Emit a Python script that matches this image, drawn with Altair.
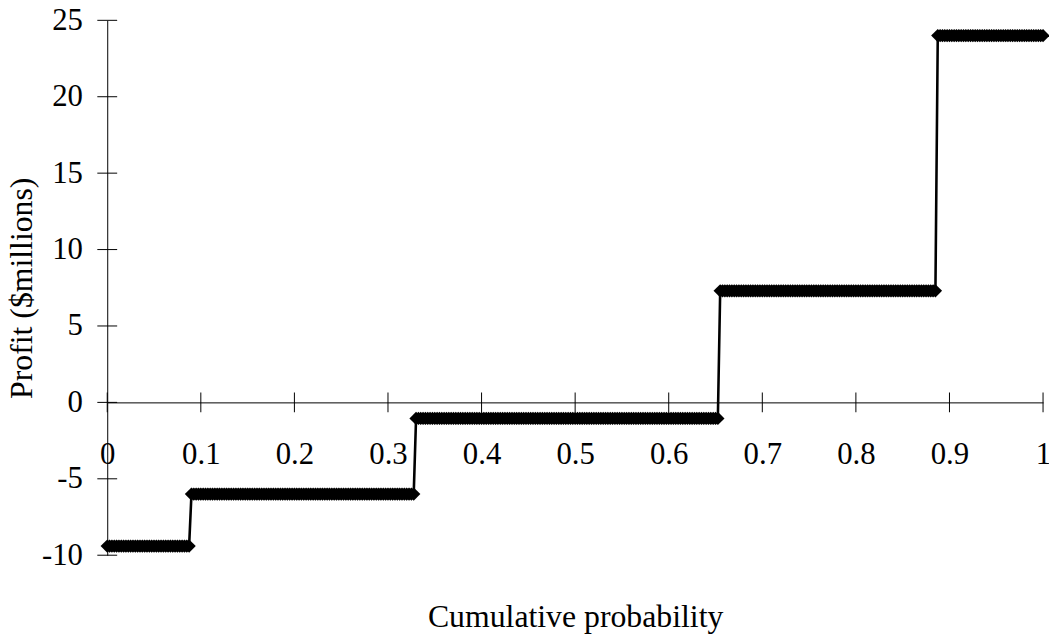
import altair as alt
import pandas as pd

# Data: sorted profit outcomes (cumulative probability plot)
profit_levels = [-9.4, -6.0, -1.05, 7.3, 24.0]   # $ millions
level_counts = [36, 96, 130, 93, 46]             # number of plotted points on each level

x_tick_values = [0, 0.1, 0.2, 0.3, 0.4, 0.5, 0.6, 0.7, 0.8, 0.9, 1]
y_tick_values = [-10, -5, 0, 5, 10, 15, 20, 25]

profits = []
for lvl, cnt in zip(profit_levels, level_counts):
    profits += [lvl] * cnt
n = len(profits)
probs = [i / (n - 1) for i in range(n)]
df = pd.DataFrame({"p": probs, "profit": profits})

W, H = 943, 539
FONT = "Liberation Serif"
LFS = 31
TFS = 32

x_scale = alt.Scale(domain=[0, 1], nice=False, zero=False)
y_scale = alt.Scale(domain=[-10, 25], nice=False, zero=False)

x_axis = alt.Axis(
    values=x_tick_values, labelExpr="'' + datum.value", ticks=False, grid=False,
    domain=True, offset=-154, labelPadding=38, labelFlush=False, labelOverlap=False,
    title="Cumulative probability", titleY=226, titleBaseline="alphabetic",
)
y_axis = alt.Axis(
    values=y_tick_values, labelExpr="'' + datum.value", ticks=False, grid=False,
    domain=True, labelPadding=25, labelFlush=False, labelOverlap=False,
    title="Profit ($millions)", titleX=-76, titleY=H / 2, titleAngle=270,
    titleBaseline="alphabetic",
)

base = alt.Chart(df)
line = base.mark_line(color="black", strokeWidth=2.6).encode(
    x=alt.X("p:Q", scale=x_scale, axis=x_axis),
    y=alt.Y("profit:Q", scale=y_scale, axis=y_axis),
)
points = base.mark_point(shape="diamond", filled=True, size=180, color="black", opacity=1).encode(
    x="p:Q", y="profit:Q"
)

xt = alt.Chart(pd.DataFrame({"x": x_tick_values})).mark_tick(
    orient="vertical", size=20, thickness=1, color="black", opacity=1
).encode(x="x:Q", y=alt.datum(0))
yt = alt.Chart(pd.DataFrame({"y": y_tick_values})).mark_tick(
    orient="horizontal", size=20, thickness=1, color="black", opacity=1
).encode(y="y:Q", x=alt.datum(0))

chart = alt.layer(xt, yt, line, points).properties(
    width=W, height=H,
    autosize=alt.AutoSizeParams(type="none"),
    padding={"left": 100, "top": 10, "right": 6, "bottom": 79},
).configure_view(stroke=None).configure_axis(
    domainColor="black", domainWidth=1, labelColor="black", titleColor="black",
    labelFont=FONT, titleFont=FONT, labelFontSize=LFS, titleFontSize=TFS,
    titleFontWeight="normal",
)

chart.save("out.html", embed_options={"renderer": "svg", "actions": False})
